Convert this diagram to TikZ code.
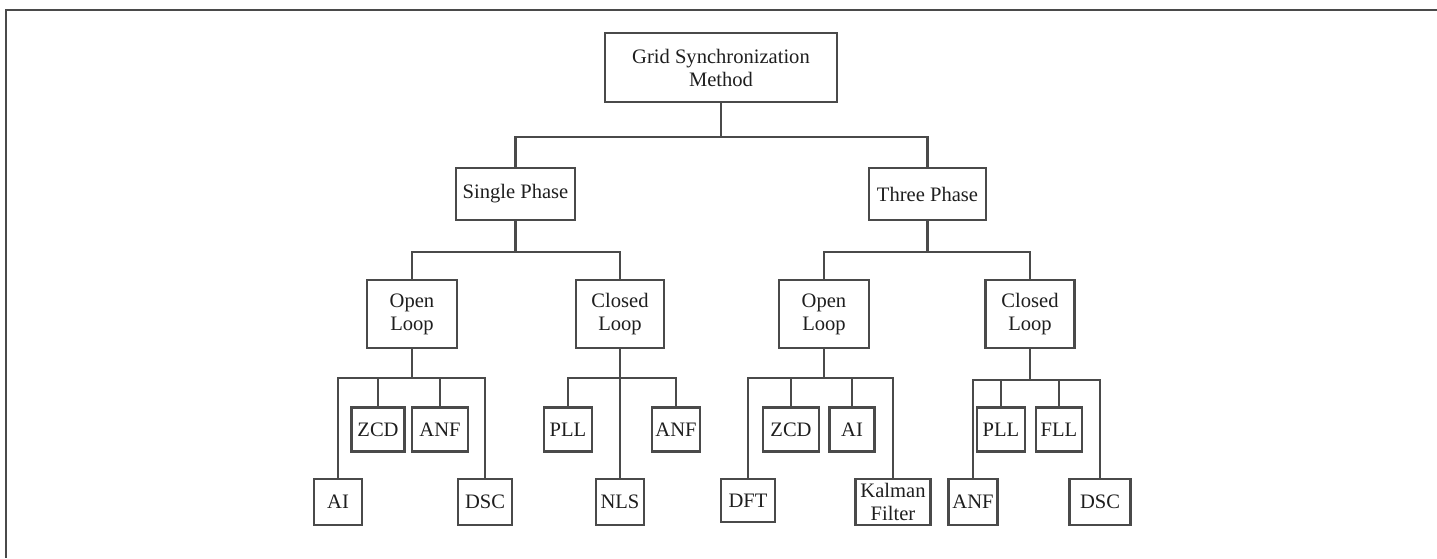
\documentclass[tikz,border=0pt]{standalone}
\usepackage{fontspec}
\setmainfont{Liberation Serif}
\usepackage{tikz}
\definecolor{gridSyncLine}{HTML}{4A4A4A}
\definecolor{gridSyncText}{HTML}{1E1E1E}

\begin{document}
\begin{tikzpicture}[x=0.02cm, y=-0.02cm,
            methodBox/.style={draw=gridSyncLine, line width=1.3pt, text=gridSyncText, align=center, inner sep=0pt, font=\fontsize{11.7}{13.1}\selectfont},
            link/.style={draw=gridSyncLine, line width=1.3pt}]
            \useasboundingbox (0,0) rectangle (1437,558);
            \draw[gridSyncLine, line width=1.1pt] (1437,10) -- (6,10) -- (6,558);
            \node[methodBox, minimum width=232*0.02cm, minimum height=69*0.02cm] (root) at (721,67.5) {Grid Synchronization\\Method};
            \node[methodBox, minimum width=119*0.02cm, minimum height=52*0.02cm] (single) at (515.5,194) {Single Phase};
            \node[methodBox, minimum width=117*0.02cm, minimum height=52*0.02cm] (three) at (927.5,194) {Three Phase};
            \node[methodBox, minimum width=90*0.02cm, minimum height=68*0.02cm] (sOpen) at (412,314) {Open\\Loop};
            \node[methodBox, minimum width=88*0.02cm, minimum height=68*0.02cm] (sClosed) at (620,314) {Closed\\Loop};
            \node[methodBox, minimum width=90*0.02cm, minimum height=68*0.02cm] (tOpen) at (824,314) {Open\\Loop};
            \node[methodBox, minimum width=89*0.02cm, minimum height=68*0.02cm] (tClosed) at (1030,314) {Closed\\Loop};
            \node[methodBox, minimum width=53*0.02cm, minimum height=44*0.02cm] (sZcd) at (378,429.5) {ZCD};
            \node[methodBox, minimum width=56*0.02cm, minimum height=44*0.02cm] (sAnf) at (440,429.5) {ANF};
            \node[methodBox, minimum width=48*0.02cm, minimum height=46*0.02cm] (sAi) at (338,502) {AI};
            \node[methodBox, minimum width=54*0.02cm, minimum height=46*0.02cm] (sDsc) at (485,502) {DSC};
            \node[methodBox, minimum width=48*0.02cm, minimum height=44*0.02cm] (sPll) at (568,429.5) {PLL};
            \node[methodBox, minimum width=48*0.02cm, minimum height=44*0.02cm] (sAnfC) at (676,429.5) {ANF};
            \node[methodBox, minimum width=48*0.02cm, minimum height=46*0.02cm] (sNls) at (620,502) {NLS};
            \node[methodBox, minimum width=56*0.02cm, minimum height=44*0.02cm] (tZcd) at (791,429.5) {ZCD};
            \node[methodBox, minimum width=45*0.02cm, minimum height=44*0.02cm] (tAi) at (852,429.5) {AI};
            \node[methodBox, minimum width=54*0.02cm, minimum height=43*0.02cm] (tDft) at (748,500.5) {DFT};
            \node[methodBox, minimum width=75*0.02cm, minimum height=46*0.02cm] (tKalman) at (893,502) {Kalman\\Filter};
            \node[methodBox, minimum width=48*0.02cm, minimum height=44*0.02cm] (tPll) at (1001,429.5) {PLL};
            \node[methodBox, minimum width=46*0.02cm, minimum height=44*0.02cm] (tFll) at (1059,429.5) {FLL};
            \node[methodBox, minimum width=49*0.02cm, minimum height=46*0.02cm] (tAnf) at (973,502) {ANF};
            \node[methodBox, minimum width=61*0.02cm, minimum height=46*0.02cm] (tDsc) at (1100,502) {DSC};
            \foreach \kid in {single,three}
                \draw[link] (root.south) -- ++(0,34) -| (\kid.north);
            \foreach \kid in {sOpen,sClosed}
                \draw[link] (single.south) -- ++(0,31) -| (\kid.north);
            \foreach \kid in {tOpen,tClosed}
                \draw[link] (three.south) -- ++(0,31) -| (\kid.north);
            \foreach \kid in {sAi,sZcd,sAnf,sDsc}
                \draw[link] (sOpen.south) -- ++(0,29) -| (\kid.north);
            \foreach \kid in {sPll,sNls,sAnfC}
                \draw[link] (sClosed.south) -- ++(0,29) -| (\kid.north);
            \foreach \kid in {tDft,tZcd,tAi,tKalman}
                \draw[link] (tOpen.south) -- ++(0,29) -| (\kid.north);
            \foreach \kid in {tAnf,tPll,tFll,tDsc}
                \draw[link] (tClosed.south) -- ++(0,31) -| (\kid.north);
        \end{tikzpicture}
\end{document}
